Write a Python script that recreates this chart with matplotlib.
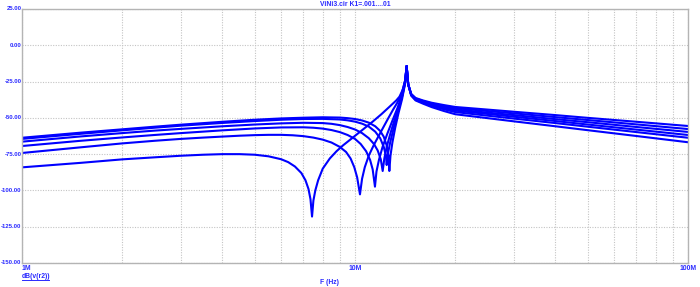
import matplotlib
matplotlib.use("Agg")
import matplotlib.pyplot as plt
from matplotlib.lines import Line2D
from matplotlib.ticker import FixedLocator, LogLocator, NullFormatter

# ---------------- data (frequency in MHz, level in dB) ----------------
right_f = [14.29, 14.45, 14.75, 15.2, 16.0, 17.0, 18.5, 20, 25, 30, 40, 50, 70, 100]

freq_A = [1, 1.5, 2, 2.5, 3, 3.5, 4, 4.5, 5, 5.5, 6, 6.3, 6.6, 6.9, 7.1, 7.25, 7.35,
          7.43, 7.5, 7.6, 7.75, 8.0, 8.4, 8.8, 9.2, 9.64, 10.5, 11.3, 12, 12.7, 13.3,
          13.6, 13.95, 14.15]
db_A = [-84.1, -81, -78.6, -77.2, -76.1, -75.4, -75.0, -75.0, -75.4, -76.5, -78.5,
        -80.5, -83.5, -88, -93, -99, -106, -118, -107, -100, -93, -85, -78, -73, -69,
        -65.3, -58.5, -52.6, -47.5, -42.3, -38, -35.4, -30, -24]
right_A = [-14.3, -27, -34.7, -38.0, -40.2, -42.6, -45.3, -47.5, -50.2, -52.4, -55.8,
           -58.5, -62.5, -66.8]

freq_B = [1, 1.5, 2, 2.5, 3, 3.5, 4, 4.5, 5, 5.5, 6, 6.5, 7, 7.5, 8, 8.5, 9, 9.4, 9.7,
          9.95, 10.15, 10.35, 10.5, 10.7, 11.0, 11.4, 12, 12.5, 13, 13.4, 13.8, 14.15]
db_B = [-74.2, -70.3, -67.6, -65.8, -64.5, -63.6, -62.9, -62.3, -61.9, -61.7, -61.7,
        -62, -62.6, -63.6, -65, -67, -70, -73.5, -78, -84, -91, -102.7, -92, -84, -76,
        -68.5, -59, -51.5, -44.5, -39.5, -33.5, -24]
right_B = [-14.3, -27, -34.4, -37.5, -39.6, -41.8, -44.1, -46.0, -48.5, -50.5, -53.6,
           -56.1, -59.8, -63.7]

freq_C = [1, 1.5, 2, 2.5, 3, 4, 5, 6, 7, 7.5, 8, 8.5, 9, 9.5, 10, 10.4, 10.8, 11.1,
          11.3, 11.48, 11.6, 11.8, 12.1, 12.5, 13, 13.4, 13.8, 14.15]
db_C = [-69.4, -65.8, -63.5, -61.8, -60.5, -58.6, -57.3, -56.6, -56.5, -56.8, -57.4,
        -58.4, -59.8, -61.8, -64.5, -68, -73, -79, -85.5, -97.4, -87, -79, -70, -61,
        -51, -43.5, -35, -25]
right_C = [-14.3, -27, -34.2, -37.2, -39.2, -41.2, -43.3, -45.0, -47.3, -49.2, -52.2,
           -54.6, -58.1, -61.8]

freq_D = [1, 1.5, 2, 2.5, 3, 4, 5, 6, 7, 8, 8.5, 9, 9.5, 10, 10.5, 11, 11.4, 11.7,
          11.95, 12.11, 12.25, 12.45, 12.8, 13.2, 13.6, 13.9, 14.15]
db_D = [-66.4, -62.8, -60.5, -58.8, -57.6, -55.8, -54.6, -53.8, -53.4, -53.6, -54.1,
        -55, -56.3, -58, -60.5, -64, -68, -72.5, -78.5, -86.6, -78, -70, -60, -50, -41,
        -34, -25]
right_D = [-14.3, -27, -34.0, -36.9, -38.8, -40.7, -42.6, -44.2, -46.4, -48.1, -50.9,
           -53.0, -56.3, -59.7]

freq_E = [1, 1.5, 2, 2.5, 3, 4, 5, 6, 7, 8, 9, 9.5, 10, 10.5, 11, 11.5, 11.9, 12.2,
          12.38, 12.45, 12.55, 12.75, 13.1, 13.5, 13.85, 14.15]
db_E = [-64.5, -61, -58.6, -56.8, -55.4, -53.5, -52.2, -51.3, -50.8, -50.7, -51.1,
        -51.7, -52.6, -54, -56, -59.5, -64, -70, -76, -82.5, -75, -67, -56, -45, -35,
        -25.5]
right_E = [-14.3, -27, -33.7, -36.6, -38.4, -40.1, -41.9, -43.3, -45.3, -46.9, -49.5,
           -51.5, -54.5, -57.7]

freq_F = [1, 1.5, 2, 2.5, 3, 4, 5, 6, 7, 8, 9, 9.5, 10, 10.5, 11, 11.5, 11.9, 12.2,
          12.45, 12.6, 12.68, 12.78, 12.95, 13.2, 13.5, 13.85, 14.15]
db_F = [-63.7, -60.2, -57.9, -56.1, -54.7, -52.7, -51.3, -50.4, -49.9, -49.6, -49.8,
        -50.2, -50.8, -51.8, -53.3, -55.8, -59, -63, -69, -76, -86.6, -76, -67, -57,
        -47, -37, -26]
right_F = [-14.3, -27, -33.5, -36.3, -38.0, -39.6, -41.2, -42.5, -44.3, -45.8, -48.1,
           -50.0, -52.7, -55.6]

y_ticks = [25, 0, -25, -50, -75, -100, -125, -150]
x_ticks = [1, 10, 100]
x_tick_labels = ["1M", "10M", "100M"]
title_text = "ViNi3.cir K1=.001....01"
trace_label = "dB(v(r2))"
x_label = "F (Hz)"

curves = [
    (freq_A, db_A, right_A),
    (freq_B, db_B, right_B),
    (freq_C, db_C, right_C),
    (freq_D, db_D, right_D),
    (freq_E, db_E, right_E),
    (freq_F, db_F, right_F),
]

# ---------------- drawing ----------------
TXT = "#2a2aff"
LINE = "#0000ff"
FS = 4.9
FS_Y = 4.3
plt.rcParams['font.family'] = ['Liberation Sans', 'DejaVu Sans']

fig = plt.figure(figsize=(7.0, 2.87), dpi=100)
ax = fig.add_axes([22 / 700, 1 - 263 / 287, (688 - 22) / 700, (263 - 9) / 287])

for f, d, r in curves:
    ax.plot(list(f) + right_f, list(d) + r, color=LINE, lw=1.5,
            solid_joinstyle='round', solid_capstyle='round')

ax.set_xscale('log')
ax.set_xlim(1, 100)
ax.set_ylim(-150, 25)

ax.xaxis.set_major_locator(FixedLocator(x_ticks))
ax.xaxis.set_minor_locator(LogLocator(base=10, subs=range(2, 10)))
ax.xaxis.set_minor_formatter(NullFormatter())
ax.set_xticklabels([])
ax.yaxis.set_major_locator(FixedLocator(y_ticks))
ax.set_yticklabels([])

grid_kw = dict(color='#c4c4c4', lw=0.8, linestyle=(0, (1.0, 1.3)))
ax.grid(True, which='major', axis='both', **grid_kw)
ax.grid(True, which='minor', axis='x', **grid_kw)
ax.tick_params(which='both', length=0)

for s in ax.spines.values():
    s.set_color('#b4b4b4')
    s.set_linewidth(1.0)

# y tick labels
for v in y_ticks:
    ax.annotate(f"{v:.2f}", xy=(0, v), xycoords=('axes fraction', 'data'),
                xytext=(-0.4, 0), textcoords='offset points', ha='right', va='center',
                fontsize=FS_Y, fontweight='bold', color=TXT)

# x tick labels
for v, lab in zip(x_ticks, x_tick_labels):
    ha = 'left' if v == x_ticks[0] else 'center'
    ax.annotate(lab, xy=(v, 0), xycoords=('data', 'axes fraction'),
                xytext=(0, -1.5), textcoords='offset points', ha=ha, va='top',
                fontsize=FS, fontweight='bold', color=TXT)

fig.text(355 / 700, 1 - 5 / 287, title_text, ha='center', va='center',
         fontsize=FS, fontweight='bold', color=TXT)
fig.text(22 / 700, 1 - 276 / 287, trace_label, ha='left', va='center',
         fontsize=FS, fontweight='bold', color=TXT)
fig.add_artist(Line2D([22 / 700, 49 / 700], [1 - 280 / 287, 1 - 280 / 287],
                      color=TXT, lw=0.7))
fig.text(329 / 700, 1 - 282 / 287, x_label, ha='center', va='center',
         fontsize=FS, fontweight='bold', color=TXT)

fig.savefig("out.png", dpi=100, facecolor='white')
